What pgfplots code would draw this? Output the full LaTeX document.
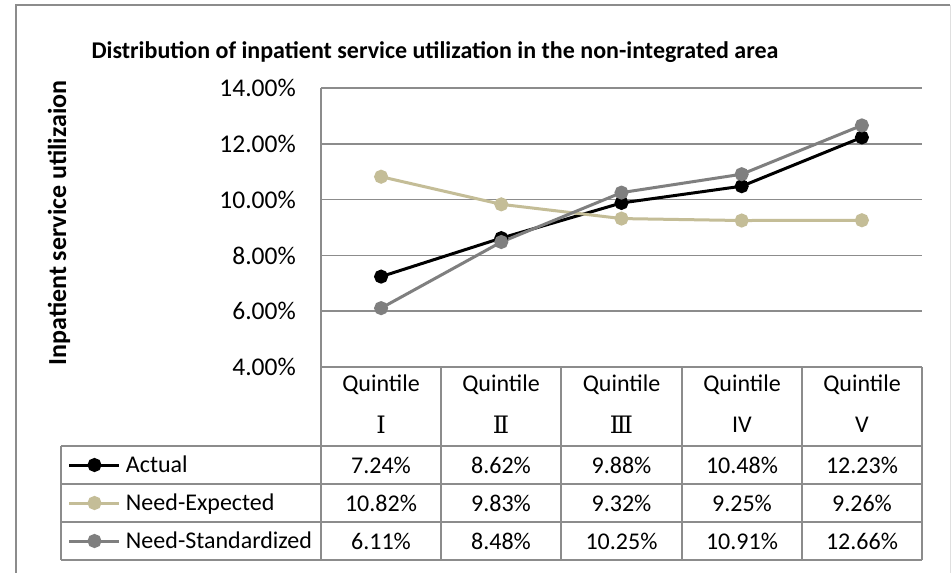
\documentclass[border=0pt]{standalone}
\usepackage{fontspec}
\setmainfont{Carlito}
\newfontfamily\romnum{DejaVu Serif}
\usepackage{pgfplots}
\pgfplotsset{compat=1.18}
\definecolor{needexp}{HTML}{C4BD97}
\definecolor{needstd}{HTML}{7F7F7F}
\definecolor{gridgray}{HTML}{8C8C8C}

\begin{document}
\begin{tikzpicture}[x=1pt,y=1pt]
\path[use as bounding box] (0,0) rectangle (951,573);
\fill[white] (0,0) rectangle (951,573);
% chart frame
\draw[gridgray, line width=2pt] (16,0) -- (16,568) -- (950,568);
\draw[gray!25, line width=1pt] (950,568) -- (950,0);

\node[anchor=west, font=\bfseries\fontsize{24}{28}\selectfont] at (88,521)
  {Distribution of inpatient service utilization in the non-integrated area};
\node[rotate=90, font=\bfseries\fontsize{26}{30}\selectfont] at (59,350)
  {Inpatient service utilizaion};

\begin{axis}[
  at={(321pt,206pt)}, anchor=south west,
  width=601pt, height=279pt, scale only axis,
  xmin=-0.5, xmax=4.5, ymin=4, ymax=14,
  ytick={4,6,8,10,12,14}, xtick=\empty,
  axis lines*=left,
  axis line style={-, gridgray, line width=1.5pt},
  ymajorgrids, grid style={gridgray, line width=1.5pt},
  major tick length=0pt,
  /pgf/number format/assume math mode=true,
  yticklabel={\pgfmathprintnumber[fixed, fixed zerofill, precision=2]{\tick}\%},
  yticklabel style={font=\fontsize{25.5}{30}\selectfont, anchor=east, inner sep=0pt, xshift=-25pt},
  clip=false,
  legend image code/.code={\draw[mark repeat=2, mark phase=2, #1] plot coordinates {(0pt,0pt) (25pt,0pt) (50pt,0pt)};},
  legend cell align=left,
  legend style={at={(-0.42097,-0.28315)}, anchor=north west, draw=none, fill=none,
    inner sep=0pt, outer sep=0pt, row sep=0pt, column sep=5pt,
    nodes={inner sep=0pt, minimum height=38pt, font=\fontsize{24}{28}\selectfont}},
  every axis plot/.append style={line width=3pt, mark=*, mark size=5.5pt, mark options={solid}},
]
\addplot[black] coordinates {(0,7.24) (1,8.62) (2,9.88) (3,10.48) (4,12.23)};
\addlegendentry{Actual}
\addplot[needexp] coordinates {(0,10.82) (1,9.83) (2,9.32) (3,9.25) (4,9.26)};
\addlegendentry{Need-Expected}
\addplot[needstd] coordinates {(0,6.11) (1,8.48) (2,10.25) (3,10.91) (4,12.66)};
\addlegendentry{Need-Standardized}
\end{axis}

% data table grid
\begin{scope}[gridgray, line width=1.5pt]
\draw (321,206) -- (321,13);
\foreach \x in {441,561,682,802,922} \draw (\x,206) -- (\x,13);
\foreach \y in {127,89,51,13} \draw (61,\y) -- (922,\y);
\draw (61,127) -- (61,13);
\end{scope}

\begin{scope}[every node/.style={font=\fontsize{24}{28}\selectfont, inner sep=0pt}]
\foreach \x in {381,501,621.5,742,862} \node at (\x,188) {Quintile};
\node at (381,148) {\romnum Ⅰ};
\node at (501,148) {\romnum Ⅱ};
\node at (621.5,148) {\romnum Ⅲ};
\node at (742,148) {IV};
\node at (862,148) {V};
% values
\node at (381,108) {7.24\%};
\node at (501,108) {8.62\%};
\node at (621.5,108) {9.88\%};
\node at (742,108) {10.48\%};
\node at (862,108) {12.23\%};
\node at (381,70) {10.82\%};
\node at (501,70) {9.83\%};
\node at (621.5,70) {9.32\%};
\node at (742,70) {9.25\%};
\node at (862,70) {9.26\%};
\node at (381,32) {6.11\%};
\node at (501,32) {8.48\%};
\node at (621.5,32) {10.25\%};
\node at (742,32) {10.91\%};
\node at (862,32) {12.66\%};
\end{scope}
\end{tikzpicture}
\end{document}
